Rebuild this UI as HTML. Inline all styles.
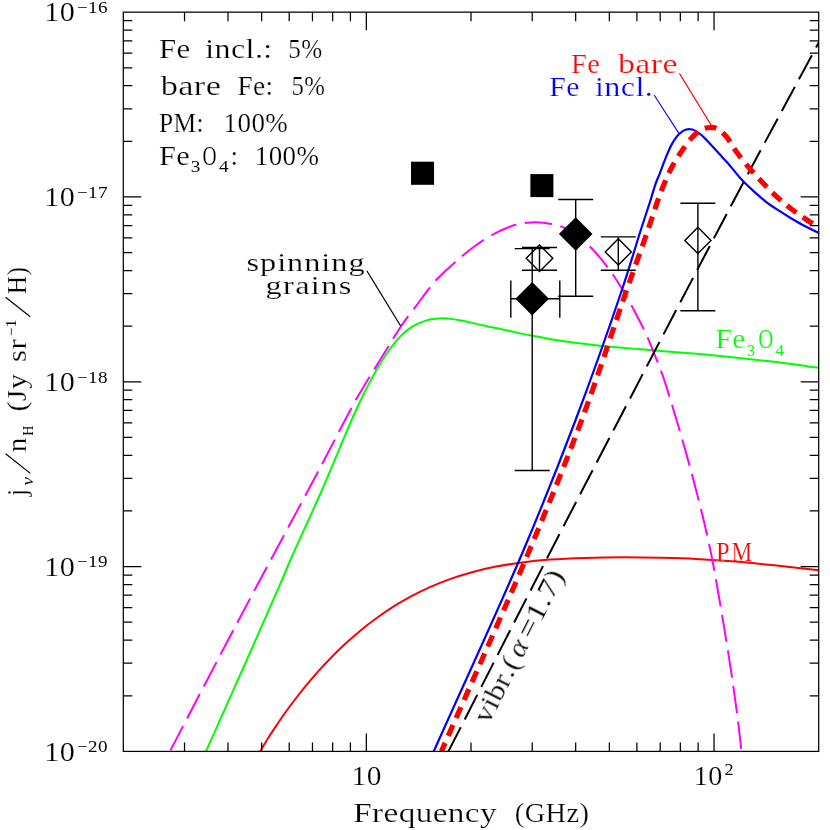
<!DOCTYPE html>
<html><head><meta charset="utf-8"><title>chart</title>
<style>html,body{margin:0;padding:0;background:#fff;}svg{display:block;}</style>
</head><body>
<svg width="830" height="830" viewBox="0 0 830 830">
<rect x="0" y="0" width="830" height="830" fill="#fff"/>
<defs><clipPath id="cp"><rect x="123.30" y="12.15" width="695.40" height="739.25"/></clipPath></defs>
<g clip-path="url(#cp)" fill="none">
<path d="M206.00,751.40 C219.00,722.27 232.21,692.86 245.00,664.00 C257.53,635.74 274.09,598.39 282.00,580.00 C285.85,571.06 286.63,568.66 290.40,560.00 C297.50,543.71 311.77,513.39 322.00,490.00 C332.17,466.73 344.61,435.89 351.60,420.00 C355.25,411.71 357.27,407.31 360.20,401.20 C363.04,395.29 365.95,389.53 368.90,383.90 C371.76,378.44 374.61,372.98 377.60,367.90 C380.42,363.11 383.33,358.53 386.30,354.20 C389.10,350.12 391.92,346.17 394.90,342.60 C397.70,339.24 400.58,336.02 403.60,333.30 C406.40,330.78 409.31,328.55 412.30,326.70 C415.12,324.96 418.07,323.61 421.00,322.40 C423.84,321.23 426.69,320.17 429.60,319.50 C432.46,318.84 435.39,318.58 438.30,318.40 C441.19,318.22 443.82,318.18 447.00,318.40 C450.91,318.67 455.10,319.31 460.00,320.20 C466.50,321.38 475.03,323.68 482.50,325.30 C489.89,326.91 496.93,328.29 504.60,329.90 C512.94,331.65 522.74,333.81 530.70,335.40 C537.39,336.74 541.68,337.67 549.20,338.90 C560.81,340.81 578.84,343.40 593.70,345.10 C608.54,346.80 623.43,347.83 638.30,349.10 C653.16,350.37 668.04,351.43 682.90,352.70 C697.77,353.97 712.64,355.22 727.50,356.70 C742.37,358.18 757.06,359.78 772.10,361.60 C787.55,363.47 803.37,365.73 819.00,367.80" stroke="#00ff00" stroke-width="2"/>
<path d="M260.20,751.40 C262.80,747.03 265.34,742.56 268.00,738.30 C270.61,734.13 273.23,730.22 276.00,726.10 C278.89,721.80 281.88,717.37 285.00,713.00 C288.21,708.51 291.55,704.01 295.00,699.50 C298.54,694.87 302.21,690.20 306.00,685.60 C309.87,680.90 313.87,676.21 318.00,671.60 C322.20,666.91 326.53,662.26 331.00,657.70 C335.53,653.09 340.20,648.54 345.00,644.10 C349.86,639.61 354.85,635.15 360.00,630.90 C365.18,626.62 370.52,622.48 376.00,618.50 C381.52,614.48 387.19,610.57 393.00,606.90 C398.85,603.20 404.86,599.69 411.00,596.40 C417.19,593.09 423.53,589.97 430.00,587.10 C436.53,584.20 443.13,581.55 450.00,579.10 C457.11,576.57 464.47,574.26 472.00,572.20 C479.79,570.07 487.81,568.21 496.00,566.60 C504.47,564.93 513.15,563.56 522.00,562.40 C531.14,561.21 540.14,560.33 550.00,559.60 C561.01,558.78 572.94,558.28 585.00,557.90 C597.89,557.49 612.02,557.31 625.00,557.30 C637.32,557.29 649.09,557.53 661.00,557.80 C672.75,558.07 683.95,558.32 696.00,558.90 C708.89,559.52 723.03,560.43 736.00,561.50 C748.33,562.52 759.20,563.77 772.00,565.10 C786.63,566.62 803.33,568.50 819.00,570.20" stroke="#ff0000" stroke-width="2"/>
<path d="M169.90,751.40 C186.60,719.43 204.20,685.54 220.00,655.50 C234.04,628.81 250.60,597.64 260.00,580.00 C265.08,570.47 266.54,567.82 271.80,558.00 C282.44,538.15 306.58,493.35 320.00,468.00 C329.77,449.53 338.45,432.58 345.10,420.00 C349.43,411.82 352.04,406.61 355.90,399.80 C359.95,392.65 364.67,385.06 368.90,378.10 C372.85,371.60 376.65,365.57 380.50,359.30 C384.35,353.04 388.42,346.27 392.00,340.50 C395.08,335.53 397.88,330.91 400.70,326.70 C403.16,323.03 405.46,319.88 407.90,316.60 C410.29,313.39 412.81,310.38 415.20,307.20 C417.61,304.01 419.47,301.19 422.30,297.50 C426.22,292.38 431.32,285.32 436.70,279.50 C442.47,273.26 449.46,267.10 456.00,261.40 C462.33,255.88 468.72,250.49 475.30,245.80 C481.60,241.30 488.03,237.16 494.60,233.70 C500.91,230.37 507.58,227.19 513.90,225.30 C519.59,223.60 525.22,222.74 530.70,222.40 C535.88,222.08 540.62,222.32 545.90,223.10 C551.83,223.98 558.21,224.85 564.50,227.80 C572.29,231.45 581.18,238.60 588.30,245.10 C595.28,251.46 601.17,258.83 606.90,266.30 C612.67,273.82 617.90,282.05 622.80,290.10 C627.58,297.96 631.91,306.23 636.00,314.00 C639.81,321.24 643.58,328.59 646.60,335.20 C649.17,340.83 650.84,345.25 653.20,351.10 C656.07,358.22 659.48,366.35 662.50,374.90 C665.94,384.64 669.15,395.54 672.50,406.50 C676.11,418.31 679.95,431.28 683.40,443.40 C686.73,455.10 689.74,466.10 692.90,478.00 C696.25,490.62 699.78,504.05 702.90,517.10 C706.01,530.08 708.91,542.72 711.60,556.10 C714.43,570.15 716.88,585.03 719.40,599.50 C721.92,613.96 724.38,628.42 726.70,642.90 C729.02,657.36 731.34,672.63 733.30,686.30 C735.05,698.51 736.60,709.81 738.00,721.00 C739.31,731.46 740.33,741.27 741.50,751.40" stroke="#ff00ff" stroke-width="2" stroke-dasharray="27.4 8.6" stroke-dashoffset="-1.2"/>
<path d="M448.40,751.40 C482.70,684.27 520.51,609.77 551.30,550.00 C576.08,501.90 593.25,468.97 618.80,420.00 C652.07,356.23 698.44,267.19 734.10,200.00 C764.40,142.90 790.70,94.67 819.00,42.00" stroke="#000" stroke-width="2" stroke-dasharray="27.4 8.7" stroke-dashoffset="0"/>
<path d="M433.70,751.40 C463.67,684.27 498.20,610.04 523.60,550.00 C543.83,502.16 559.16,463.49 575.60,420.00 C591.92,376.82 610.11,325.15 621.90,290.00 C629.86,266.27 635.49,246.56 640.80,230.00 C644.56,218.27 647.94,208.41 650.60,200.00 C652.52,193.94 653.69,189.15 655.40,184.30 C656.92,180.00 658.56,176.50 660.20,172.30 C661.99,167.70 663.70,162.59 665.70,157.80 C667.73,152.96 669.88,147.55 672.30,143.40 C674.34,139.90 676.41,136.69 678.90,134.30 C681.08,132.20 683.69,130.23 686.10,129.50 C688.12,128.89 690.08,128.94 692.20,129.50 C694.87,130.21 697.85,132.19 700.60,134.30 C703.87,136.81 706.85,140.48 710.20,144.00 C714.04,148.03 718.73,153.28 722.30,157.20 C725.16,160.34 727.19,162.46 730.00,165.70 C733.60,169.84 737.86,175.68 742.00,180.10 C745.91,184.27 750.02,187.94 754.10,191.60 C758.06,195.16 762.01,198.66 766.10,201.80 C770.05,204.84 774.14,207.53 778.20,210.20 C782.18,212.82 786.17,215.28 790.20,217.70 C794.20,220.11 797.93,222.34 802.30,224.70 C807.29,227.40 813.17,230.17 818.60,232.90" stroke="#0000ff" stroke-width="2.2"/>
<path d="M441.40,751.40 C470.80,684.27 504.45,609.99 529.60,550.00 C549.67,502.12 565.45,463.53 581.70,420.00 C597.80,376.86 614.42,325.04 626.70,290.00 C635.06,266.16 642.29,246.59 648.00,230.00 C652.02,218.31 654.93,208.55 658.00,200.00 C660.32,193.53 662.18,188.58 664.50,183.10 C666.76,177.76 668.96,172.63 671.70,167.50 C674.54,162.19 677.87,156.85 681.30,151.80 C684.71,146.79 688.43,141.21 692.20,137.30 C695.31,134.07 698.52,131.12 701.80,129.50 C704.54,128.15 707.61,127.63 710.20,127.50 C712.38,127.39 714.17,127.39 716.30,128.30 C719.31,129.60 722.89,132.80 725.90,136.10 C729.55,140.10 732.25,146.06 736.00,151.20 C740.16,156.90 745.29,163.29 749.90,168.70 C754.12,173.65 758.14,177.94 762.50,182.50 C766.97,187.18 771.58,191.98 776.40,196.40 C781.21,200.81 786.21,205.00 791.40,209.00 C796.64,213.04 802.72,217.20 807.70,220.50 C811.77,223.19 815.23,225.17 819.00,227.50" stroke="#ff0000" stroke-width="5.2" stroke-dasharray="11.8 7.7" stroke-dashoffset="2.3"/>
</g>
<g stroke="#000" stroke-width="1.25" fill="none">
<rect x="123.30" y="12.15" width="695.40" height="739.25"/>
<path d="M184.53,12.15 v9 M184.53,751.40 v-9"/>
<path d="M227.97,12.15 v9 M227.97,751.40 v-9"/>
<path d="M261.66,12.15 v9 M261.66,751.40 v-9"/>
<path d="M289.20,12.15 v9 M289.20,751.40 v-9"/>
<path d="M312.47,12.15 v9 M312.47,751.40 v-9"/>
<path d="M332.64,12.15 v9 M332.64,751.40 v-9"/>
<path d="M350.42,12.15 v9 M350.42,751.40 v-9"/>
<path d="M366.33,12.15 v18 M366.33,751.40 v-18"/>
<path d="M471.00,12.15 v9 M471.00,751.40 v-9"/>
<path d="M532.23,12.15 v9 M532.23,751.40 v-9"/>
<path d="M575.67,12.15 v9 M575.67,751.40 v-9"/>
<path d="M609.36,12.15 v9 M609.36,751.40 v-9"/>
<path d="M636.90,12.15 v9 M636.90,751.40 v-9"/>
<path d="M660.17,12.15 v9 M660.17,751.40 v-9"/>
<path d="M680.34,12.15 v9 M680.34,751.40 v-9"/>
<path d="M698.12,12.15 v9 M698.12,751.40 v-9"/>
<path d="M714.03,12.15 v18 M714.03,751.40 v-18"/>
<path d="M123.30,196.96 h18 M818.70,196.96 h-18"/>
<path d="M123.30,141.33 h9 M818.70,141.33 h-9"/>
<path d="M123.30,108.78 h9 M818.70,108.78 h-9"/>
<path d="M123.30,85.69 h9 M818.70,85.69 h-9"/>
<path d="M123.30,67.78 h9 M818.70,67.78 h-9"/>
<path d="M123.30,53.15 h9 M818.70,53.15 h-9"/>
<path d="M123.30,40.78 h9 M818.70,40.78 h-9"/>
<path d="M123.30,30.06 h9 M818.70,30.06 h-9"/>
<path d="M123.30,20.61 h9 M818.70,20.61 h-9"/>
<path d="M123.30,381.77 h18 M818.70,381.77 h-18"/>
<path d="M123.30,326.14 h9 M818.70,326.14 h-9"/>
<path d="M123.30,293.60 h9 M818.70,293.60 h-9"/>
<path d="M123.30,270.51 h9 M818.70,270.51 h-9"/>
<path d="M123.30,252.60 h9 M818.70,252.60 h-9"/>
<path d="M123.30,237.96 h9 M818.70,237.96 h-9"/>
<path d="M123.30,225.59 h9 M818.70,225.59 h-9"/>
<path d="M123.30,214.87 h9 M818.70,214.87 h-9"/>
<path d="M123.30,205.42 h9 M818.70,205.42 h-9"/>
<path d="M123.30,566.59 h18 M818.70,566.59 h-18"/>
<path d="M123.30,510.95 h9 M818.70,510.95 h-9"/>
<path d="M123.30,478.41 h9 M818.70,478.41 h-9"/>
<path d="M123.30,455.32 h9 M818.70,455.32 h-9"/>
<path d="M123.30,437.41 h9 M818.70,437.41 h-9"/>
<path d="M123.30,422.78 h9 M818.70,422.78 h-9"/>
<path d="M123.30,410.40 h9 M818.70,410.40 h-9"/>
<path d="M123.30,399.69 h9 M818.70,399.69 h-9"/>
<path d="M123.30,390.23 h9 M818.70,390.23 h-9"/>
<path d="M123.30,695.77 h9 M818.70,695.77 h-9"/>
<path d="M123.30,663.22 h9 M818.70,663.22 h-9"/>
<path d="M123.30,640.13 h9 M818.70,640.13 h-9"/>
<path d="M123.30,622.22 h9 M818.70,622.22 h-9"/>
<path d="M123.30,607.59 h9 M818.70,607.59 h-9"/>
<path d="M123.30,595.22 h9 M818.70,595.22 h-9"/>
<path d="M123.30,584.50 h9 M818.70,584.50 h-9"/>
<path d="M123.30,575.04 h9 M818.70,575.04 h-9"/>
</g>
<g stroke="#000" stroke-width="1.4" fill="none">
<path d="M532.20,248.60 V470.50 M514.70,248.60 h35.00 M514.70,470.50 h35.00"/>
<path d="M510.8,298.8 H559.8 M510.8,280.4 V317.8 M559.8,280.4 V317.8"/>
<path d="M575.70,199.50 V296.30 M558.20,199.50 h35.00 M558.20,296.30 h35.00"/>
<path d="M539.50,247.50 V270.20 M522.00,247.50 h35.00 M522.00,270.20 h35.00"/>
<path d="M618.30,236.90 V270.20 M600.80,236.90 h35.00 M600.80,270.20 h35.00"/>
<path d="M697.90,203.30 V310.70 M680.40,203.30 h35.00 M680.40,310.70 h35.00"/>
<path d="M539.50,244.90 L552.80,258.20 L539.50,271.50 L526.20,258.20 Z" fill="none"/>
<path d="M618.30,238.80 L631.40,251.90 L618.30,265.00 L605.20,251.90 Z" fill="none"/>
<path d="M697.90,227.30 L711.00,240.40 L697.90,253.50 L684.80,240.40 Z" fill="none"/>
<path d="M532.20,283.00 L548.00,298.80 L532.20,314.60 L516.40,298.80 Z" fill="#000"/>
<path d="M575.70,218.20 L591.50,234.00 L575.70,249.80 L559.90,234.00 Z" fill="#000"/>
</g>
<rect x="411.0" y="161.7" width="23.05" height="23.1" fill="#000"/>
<rect x="530.4" y="174.1" width="23" height="23" fill="#000"/>
<path d="M366.9,270.9 L400.6,325.9" stroke="#000" stroke-width="1.1" fill="none"/>
<path d="M679.4,73.4 L711.9,126.4" stroke="#ff0000" stroke-width="1.1" fill="none"/>
<path d="M654.1,95 L679.4,134.1" stroke="#0000ff" stroke-width="1.1" fill="none"/>
<g opacity="0.999">
<text transform="translate(158.90,58.30) scale(1.120,1)" font-family="Liberation Serif, serif" font-size="27.5" fill="#000" stroke="#fff" stroke-width="0.23" x="0.00 15.65" >Fe</text>
<text transform="translate(205.30,58.30) scale(1.164,1)" font-family="Liberation Serif, serif" font-size="27.5" fill="#000" stroke="#fff" stroke-width="0.23" x="0.00 7.98 22.08 34.63 42.61 49.83" >incl.:</text>
<text transform="translate(288.20,58.30) scale(0.914,1)" font-family="Liberation Serif, serif" font-size="27.5" fill="#000" stroke="#fff" stroke-width="0.23" x="0.00 14.19" >5%</text>
<text transform="translate(160.70,94.50) scale(1.247,1)" font-family="Liberation Serif, serif" font-size="27.5" fill="#000" stroke="#fff" stroke-width="0.23" x="0.00 14.07 26.60 36.08" >bare</text>
<text transform="translate(237.40,94.50) scale(0.990,1)" font-family="Liberation Serif, serif" font-size="27.5" fill="#000" stroke="#fff" stroke-width="0.23" x="0.00 15.70 28.31" >Fe:</text>
<text transform="translate(291.60,94.50) scale(0.900,1)" font-family="Liberation Serif, serif" font-size="27.5" fill="#000" stroke="#fff" stroke-width="0.23" x="0.00 14.19" >5%</text>
<text transform="translate(158.90,131.60) scale(0.924,1)" font-family="Liberation Serif, serif" font-size="27.5" fill="#000" stroke="#fff" stroke-width="0.23" x="0.00 15.73 40.61" >PM:</text>
<text transform="translate(223.60,131.60) scale(0.982,1)" font-family="Liberation Serif, serif" font-size="27.5" fill="#000" stroke="#fff" stroke-width="0.23" x="0.00 14.16 28.31 42.47" >100%</text>
<text transform="translate(158.90,165.00) scale(1.105,1)" font-family="Liberation Serif, serif" font-size="27.5" fill="#000" stroke="#fff" stroke-width="0.23" x="0.00 15.66" >Fe</text>
<text transform="translate(190.80,172.30) scale(1.164,1)" font-family="Liberation Serif, serif" font-size="16.5" fill="#000" stroke="#fff" stroke-width="0.01" x="0.00" >3</text>
<text transform="translate(202.40,165.00) scale(0.710,1)" font-family="Liberation Serif, serif" font-size="27.5" fill="#000" stroke="#fff" stroke-width="0.23" x="0.00" >O</text>
<text transform="translate(219.10,172.30) scale(1.164,1)" font-family="Liberation Serif, serif" font-size="16.5" fill="#000" stroke="#fff" stroke-width="0.01" x="0.00" >4</text>
<text transform="translate(230.40,165.00) scale(1.000,1)" font-family="Liberation Serif, serif" font-size="27.5" fill="#000" stroke="#fff" stroke-width="0.23" x="0.00" >:</text>
<text transform="translate(254.80,165.00) scale(0.982,1)" font-family="Liberation Serif, serif" font-size="27.5" fill="#000" stroke="#fff" stroke-width="0.23" x="0.00 14.16 28.31 42.47" >100%</text>
<text transform="translate(246.50,270.90) scale(1.270,1)" font-family="Liberation Serif, serif" font-size="25.5" fill="#000" stroke="#fff" stroke-width="0.19" x="0.00 10.66 24.14 31.96 45.45 58.94 66.76 80.24" >spinning</text>
<text transform="translate(265.50,294.30) scale(1.270,1)" font-family="Liberation Serif, serif" font-size="25.5" fill="#000" stroke="#fff" stroke-width="0.19" x="0.00 13.80 23.34 35.70 43.84 57.64" >grains</text>
<text transform="translate(571.00,72.50) scale(1.036,1)" font-family="Liberation Serif, serif" font-size="27.5" fill="#ff0000" stroke="#fff" stroke-width="0.23" x="0.00 15.68" >Fe</text>
<text transform="translate(618.00,72.50) scale(1.232,1)" font-family="Liberation Serif, serif" font-size="27.5" fill="#ff0000" stroke="#fff" stroke-width="0.23" x="0.00 14.07 26.61 36.09" >bare</text>
<text transform="translate(549.30,95.90) scale(1.080,1)" font-family="Liberation Serif, serif" font-size="27.5" fill="#0000ff" stroke="#fff" stroke-width="0.23" x="0.00 15.66" >Fe</text>
<text transform="translate(595.00,95.90) scale(1.170,1)" font-family="Liberation Serif, serif" font-size="27.5" fill="#0000ff" stroke="#fff" stroke-width="0.23" x="0.00 7.98 22.07 34.62 42.60" >incl.</text>
<text transform="translate(715.60,348.00) scale(1.065,1)" font-family="Liberation Serif, serif" font-size="27.5" fill="#00ff00" stroke="#fff" stroke-width="0.23" x="0.00 15.67" >Fe</text>
<text transform="translate(747.30,355.90) scale(0.962,1)" font-family="Liberation Serif, serif" font-size="16" fill="#00ff00" stroke="#fff" stroke-width="0.00" x="0.00" >3</text>
<text transform="translate(758.30,348.00) scale(0.760,1)" font-family="Liberation Serif, serif" font-size="27.5" fill="#00ff00" stroke="#fff" stroke-width="0.23" x="0.00" >O</text>
<text transform="translate(775.20,355.90) scale(1.113,1)" font-family="Liberation Serif, serif" font-size="16" fill="#00ff00" stroke="#fff" stroke-width="0.00" x="0.00" >4</text>
<text transform="translate(716.10,560.70) scale(0.889,1)" font-family="Liberation Serif, serif" font-size="27.5" fill="#ff0000" stroke="#fff" stroke-width="0.23" x="0.00" >P</text>
<text transform="translate(731.50,560.70) scale(0.842,1)" font-family="Liberation Serif, serif" font-size="27.5" fill="#ff0000" stroke="#fff" stroke-width="0.23" x="0.00" >M</text>
<text transform="translate(351.60,784.80) scale(1.089,1)" font-family="Liberation Serif, serif" font-size="27" fill="#000" stroke="#fff" stroke-width="0.22" x="0.00 13.87" >10</text>
<text transform="translate(693.70,784.80) scale(1.044,1)" font-family="Liberation Serif, serif" font-size="27" fill="#000" stroke="#fff" stroke-width="0.22" x="0.00 13.88" >10</text>
<text transform="translate(724.50,775.00) scale(1.137,1)" font-family="Liberation Serif, serif" font-size="16" fill="#000" stroke="#fff" stroke-width="0.00" x="0.00" >2</text>
<text transform="translate(353.20,821.70) scale(1.208,1)" font-family="Liberation Serif, serif" font-size="27.5" fill="#000" stroke="#fff" stroke-width="0.23" x="0.00 15.63 25.11 37.65 51.73 65.81 78.35 92.43 104.97" >Frequency</text>
<text transform="translate(514.80,821.70) scale(1.034,1)" font-family="Liberation Serif, serif" font-size="27.5" fill="#000" stroke="#fff" stroke-width="0.23" x="0.00 9.54 29.79 50.04 62.63" >(GHz)</text>
<text transform="translate(44.20,21.35) scale(1.119,1)" font-family="Liberation Serif, serif" font-size="27" fill="#000" stroke="#fff" stroke-width="0.22" x="0.00 13.86" >10</text>
<text transform="translate(77.20,13.05) scale(1.150,1)" font-family="Liberation Serif, serif" font-size="16" fill="#000" stroke="#fff" stroke-width="0.00" x="0.00" >−</text>
<text transform="translate(88.00,13.05) scale(1.194,1)" font-family="Liberation Serif, serif" font-size="16" fill="#000" stroke="#fff" stroke-width="0.00" x="0.00 8.34" >16</text>
<text transform="translate(44.20,206.16) scale(1.119,1)" font-family="Liberation Serif, serif" font-size="27" fill="#000" stroke="#fff" stroke-width="0.22" x="0.00 13.86" >10</text>
<text transform="translate(77.20,197.86) scale(1.150,1)" font-family="Liberation Serif, serif" font-size="16" fill="#000" stroke="#fff" stroke-width="0.00" x="0.00" >−</text>
<text transform="translate(88.00,197.86) scale(1.194,1)" font-family="Liberation Serif, serif" font-size="16" fill="#000" stroke="#fff" stroke-width="0.00" x="0.00 8.34" >17</text>
<text transform="translate(44.20,390.97) scale(1.119,1)" font-family="Liberation Serif, serif" font-size="27" fill="#000" stroke="#fff" stroke-width="0.22" x="0.00 13.86" >10</text>
<text transform="translate(77.20,382.67) scale(1.150,1)" font-family="Liberation Serif, serif" font-size="16" fill="#000" stroke="#fff" stroke-width="0.00" x="0.00" >−</text>
<text transform="translate(88.00,382.67) scale(1.194,1)" font-family="Liberation Serif, serif" font-size="16" fill="#000" stroke="#fff" stroke-width="0.00" x="0.00 8.34" >18</text>
<text transform="translate(44.20,575.79) scale(1.119,1)" font-family="Liberation Serif, serif" font-size="27" fill="#000" stroke="#fff" stroke-width="0.22" x="0.00 13.86" >10</text>
<text transform="translate(77.20,567.49) scale(1.150,1)" font-family="Liberation Serif, serif" font-size="16" fill="#000" stroke="#fff" stroke-width="0.00" x="0.00" >−</text>
<text transform="translate(88.00,567.49) scale(1.194,1)" font-family="Liberation Serif, serif" font-size="16" fill="#000" stroke="#fff" stroke-width="0.00" x="0.00 8.34" >19</text>
<text transform="translate(44.20,760.60) scale(1.119,1)" font-family="Liberation Serif, serif" font-size="27" fill="#000" stroke="#fff" stroke-width="0.22" x="0.00 13.86" >10</text>
<text transform="translate(77.20,752.30) scale(1.150,1)" font-family="Liberation Serif, serif" font-size="16" fill="#000" stroke="#fff" stroke-width="0.00" x="0.00" >−</text>
<text transform="translate(88.00,752.30) scale(1.194,1)" font-family="Liberation Serif, serif" font-size="16" fill="#000" stroke="#fff" stroke-width="0.00" x="0.00 8.34" >20</text>
<g transform="translate(25.8,496) rotate(-90)">
<text transform="translate(0.00,0.00) scale(0.942,1)" font-family="Liberation Serif, serif" font-size="27.5" fill="#000" stroke="#fff" stroke-width="0.23" x="0.00" >j</text>
<text transform="translate(10.60,7.00) scale(1.140,1)" font-family="Liberation Serif, serif" font-size="17" fill="#000" stroke="#fff" stroke-width="0.02" x="0.00" font-style="italic">ν</text>
<path d="M22.6,4.5 L42.2,-20.2" stroke="#000" stroke-width="1.2"/>
<text transform="translate(43.70,0.00) scale(1.069,1)" font-family="Liberation Serif, serif" font-size="27.5" fill="#000" stroke="#fff" stroke-width="0.23" x="0.00" >n</text>
<text transform="translate(60.30,7.00) scale(0.932,1)" font-family="Liberation Serif, serif" font-size="15" fill="#000" stroke="#fff" stroke-width="0.00" x="0.00" >H</text>
<text transform="translate(84.40,0.00) scale(1.095,1)" font-family="Liberation Serif, serif" font-size="27.5" fill="#000" stroke="#fff" stroke-width="0.23" x="0.00 9.52 20.59" >(Jy</text>
<text transform="translate(134.10,0.00) scale(1.118,1)" font-family="Liberation Serif, serif" font-size="27.5" fill="#000" stroke="#fff" stroke-width="0.23" x="0.00 11.06" >sr</text>
<text transform="translate(159.70,-9.50) scale(1.009,1)" font-family="Liberation Serif, serif" font-size="15" fill="#000" stroke="#fff" stroke-width="0.00" x="0.00 8.86" >−1</text>
<path d="M179.3,4.5 L198.8,-20.2" stroke="#000" stroke-width="1.2"/>
<text transform="translate(201.80,0.00) scale(0.924,1)" font-family="Liberation Serif, serif" font-size="27.5" fill="#000" stroke="#fff" stroke-width="0.23" x="0.00 20.29" >H)</text>
</g>
<g transform="translate(488.8,725) rotate(-63)">
<text transform="translate(0.00,0.00) scale(1.170,1)" font-family="Liberation Serif, serif" font-size="26.5" fill="#000" stroke="#fff" stroke-width="0.21" x="0.00 13.59 21.30 34.89 44.06 51.02" >vibr.(</text>
<text transform="translate(74.00,0.00) scale(1.121,1)" font-family="Liberation Serif, serif" font-size="26.5" fill="#000" stroke="#fff" stroke-width="0.21" x="0.00" font-style="italic">α</text>
<text transform="translate(95.00,0.00) scale(1.255,1)" font-family="Liberation Serif, serif" font-size="26.5" fill="#000" stroke="#fff" stroke-width="0.21" x="0.00 15.26 28.83 35.78 49.35" >=1.7)</text>
</g>
</g>
</svg>
</body></html>
